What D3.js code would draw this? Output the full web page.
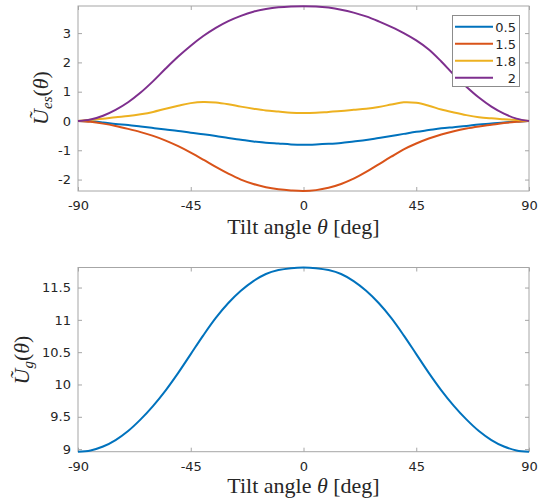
<!DOCTYPE html>
<html>
<head>
    <meta charset="utf-8" />
    <script src="https://d3js.org/d3.v7.min.js"></script>
    <style>
        body { margin: 0; background: #fff; }
        svg { display: block; }
        .tick text { font-family: "DejaVu Sans", sans-serif; font-size: 13px; fill: #262626; }
        .lbl { font-family: "Liberation Serif", "DejaVu Serif", serif; fill: #262626; }
    </style>
</head>
<body>

<svg id="svg"></svg>

<script>

// tilt angles (deg)
let angles = [-90, -85, -80, -75, -70, -65, -60, -55, -50, -45, -40, -35, -30, -25, -20, -15, -10, -5, 0,
              5, 10, 15, 20, 25, 30, 35, 40, 45, 50, 55, 60, 65, 70, 75, 80, 85, 90];

let seriesNames = ["0.5", "1.5", "1.8", "2"];
let colors = ["#0072BD", "#D95319", "#EDB120", "#7E2F8E"];

let ues05 = [0, -0.01, -0.05, -0.10, -0.14, -0.19, -0.24, -0.29, -0.34, -0.40, -0.45, -0.51, -0.58, -0.64, -0.70, -0.74, -0.77, -0.80, -0.81,
             -0.80, -0.78, -0.75, -0.70, -0.65, -0.58, -0.51, -0.44, -0.37, -0.31, -0.25, -0.21, -0.17, -0.12, -0.09, -0.05, -0.02, 0];
let ues15 = [0, -0.03, -0.09, -0.17, -0.27, -0.38, -0.51, -0.67, -0.86, -1.08, -1.32, -1.57, -1.80, -2.00, -2.15, -2.26, -2.33, -2.37, -2.39,
             -2.36, -2.28, -2.15, -1.97, -1.74, -1.48, -1.22, -0.97, -0.77, -0.60, -0.46, -0.35, -0.26, -0.19, -0.13, -0.07, -0.03, 0];
let ues18 = [0, 0.04, 0.08, 0.13, 0.17, 0.23, 0.31, 0.42, 0.52, 0.61, 0.65, 0.63, 0.57, 0.49, 0.42, 0.36, 0.32, 0.28, 0.27,
             0.28, 0.31, 0.34, 0.38, 0.42, 0.48, 0.56, 0.64, 0.62, 0.52, 0.39, 0.29, 0.20, 0.13, 0.09, 0.06, 0.03, 0];
let ues2 = [0, 0.05, 0.18, 0.38, 0.64, 0.97, 1.36, 1.79, 2.20, 2.57, 2.90, 3.18, 3.41, 3.59, 3.73, 3.82, 3.88, 3.91, 3.92,
            3.91, 3.87, 3.80, 3.70, 3.57, 3.40, 3.21, 3.00, 2.75, 2.44, 2.03, 1.58, 1.17, 0.80, 0.49, 0.25, 0.08, 0];

let ug = [8.96, 8.98, 9.04, 9.14, 9.28, 9.46, 9.67, 9.91, 10.18, 10.47, 10.76, 11.03, 11.26, 11.45, 11.60, 11.71, 11.77, 11.80, 11.81,
          11.80, 11.77, 11.71, 11.60, 11.45, 11.26, 11.03, 10.76, 10.47, 10.18, 9.91, 9.67, 9.46, 9.28, 9.14, 9.04, 8.98, 8.96];

let xTicks = [-90, -45, 0, 45, 90];
let yTicksTop = [-2, -1, 0, 1, 2, 3];
let yTicksBot = [9, 9.5, 10, 10.5, 11, 11.5];

let W = 539, H = 499;
let svg = d3.select("#svg").attr("width", W).attr("height", H);

let left = 78, right = 529;
let x = d3.scaleLinear().domain([-90, 90]).range([left, right]);

let yTop = d3.scaleLinear().domain([-2.39, 3.925]).range([191, 6]);
let yBot = d3.scaleLinear().domain([8.96, 11.81]).range([451.7, 267.5]);

// plain hyphen minus like the original
let fmt = d => String(d);

function drawAxes(y, yTicks) {
    let g = svg.append("g");
    let [y0, y1] = y.range();

    g.append("rect")
        .attr("x", left).attr("y", y1)
        .attr("width", right - left).attr("height", y0 - y1)
        .attr("fill", "none").attr("stroke", "#a6a6a6").attr("stroke-width", 1);

    // ticks on all four sides, pointing inward
    let xb = g.append("g").attr("transform", `translate(0,${y0})`)
        .call(d3.axisBottom(x).tickValues(xTicks).tickSize(-4).tickPadding(10).tickFormat(fmt));
    let xt = g.append("g").attr("transform", `translate(0,${y1})`)
        .call(d3.axisTop(x).tickValues(xTicks).tickSize(-4).tickFormat(""));
    let yl = g.append("g").attr("transform", `translate(${left},0)`)
        .call(d3.axisLeft(y).tickValues(yTicks).tickSize(-4).tickPadding(7).tickFormat(fmt));
    let yr = g.append("g").attr("transform", `translate(${right},0)`)
        .call(d3.axisRight(y).tickValues(yTicks).tickSize(-4).tickFormat(""));

    [xb, xt, yl, yr].forEach(a => {
        a.select(".domain").remove();
        a.selectAll("line").attr("stroke", "#a6a6a6");
    });
    return g;
}

drawAxes(yTop, yTicksTop);
drawAxes(yBot, yTicksBot);

// top curves
let topSeries = [ues05, ues15, ues18, ues2];
let lineTop = d3.line()
    .x((d, i) => x(angles[i]))
    .y(d => yTop(d))
    .curve(d3.curveCatmullRom.alpha(0.5));

topSeries.forEach((s, k) => {
    svg.append("path")
        .datum(s)
        .attr("d", lineTop)
        .attr("fill", "none")
        .attr("stroke", colors[k])
        .attr("stroke-width", 2);
});

// bottom curve
let lineBot = d3.line()
    .x((d, i) => x(angles[i]))
    .y(d => yBot(d))
    .curve(d3.curveCatmullRom.alpha(0.5));

svg.append("path")
    .datum(ug)
    .attr("d", lineBot)
    .attr("fill", "none")
    .attr("stroke", colors[0])
    .attr("stroke-width", 2);

// legend
let leg = svg.append("g");
leg.append("rect")
    .attr("x", 452.5).attr("y", 15.5)
    .attr("width", 67).attr("height", 71)
    .attr("fill", "#fff").attr("stroke", "#8c8c8c");

seriesNames.forEach((name, k) => {
    let cy = 26.7 + k * 17;
    leg.append("line")
        .attr("x1", 455).attr("x2", 493)
        .attr("y1", cy).attr("y2", cy)
        .attr("stroke", colors[k]).attr("stroke-width", 2);
    leg.append("text")
        .attr("x", 516).attr("y", cy + 5)
        .attr("text-anchor", "end")
        .attr("font-family", "DejaVu Sans, sans-serif")
        .attr("font-size", 13)
        .attr("fill", "#262626")
        .text(name);
});

// axis labels
function xLabel(yBase) {
    let t = svg.append("text").attr("class", "lbl")
        .attr("x", (left + right) / 2).attr("y", yBase)
        .attr("text-anchor", "middle")
        .attr("font-size", 22);
    t.append("tspan").text("Tilt angle ");
    t.append("tspan").attr("font-style", "italic").text("θ");
    t.append("tspan").text(" [deg]");
}
xLabel(234);
xLabel(493);

function yLabel(cx, cy, sub) {
    let t = svg.append("text").attr("class", "lbl")
        .attr("transform", `translate(${cx},${cy}) rotate(-90)`)
        .attr("text-anchor", "middle")
        .attr("font-size", 22);
    t.append("tspan").attr("font-style", "italic").text("U\u0303");
    t.append("tspan").attr("font-style", "italic").attr("font-size", 15).attr("dy", 4).text(sub);
    t.append("tspan").attr("dy", -4).text("(");
    t.append("tspan").attr("font-style", "italic").text("θ");
    t.append("tspan").text(")");
}
yLabel(48, 98, "es");
yLabel(29, 360, "g");

</script>

</body>
</html>
